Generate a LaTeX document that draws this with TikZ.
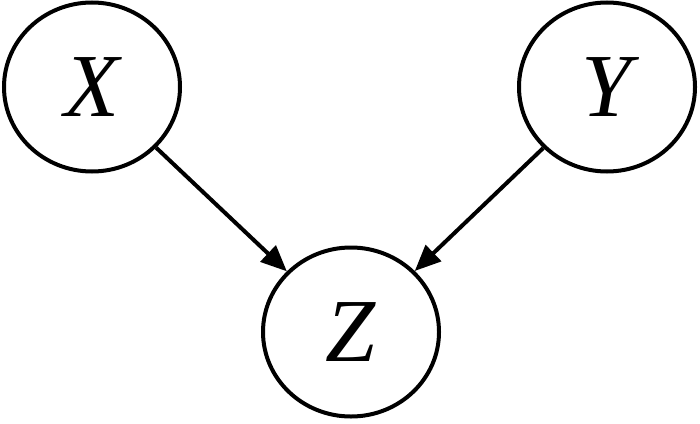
\documentclass[tikz,border=0pt]{standalone}
\usepackage{fontspec}
\setmainfont{Liberation Serif}
\usetikzlibrary{shapes.geometric,arrows.meta}
\begin{document}
\begin{tikzpicture}[x=1pt,y=-1pt,
  var/.style={draw, ellipse, line width=4pt, minimum width=176pt, minimum height=169pt, inner sep=0pt, font=\fontsize{90}{90}\selectfont\itshape},
  conn/.style={line width=4pt, -{Triangle[length=26pt,width=22pt]}}]
\useasboundingbox (0,0) rectangle (700,423);
\node[var] (X) at (92,87) {X};
\node[var] (Y) at (607,87) {Y};
\node[var] (Z) at (351,332) {Z};
\draw[conn] (X) -- (Z);
\draw[conn] (Y) -- (Z);
\end{tikzpicture}
\end{document}
